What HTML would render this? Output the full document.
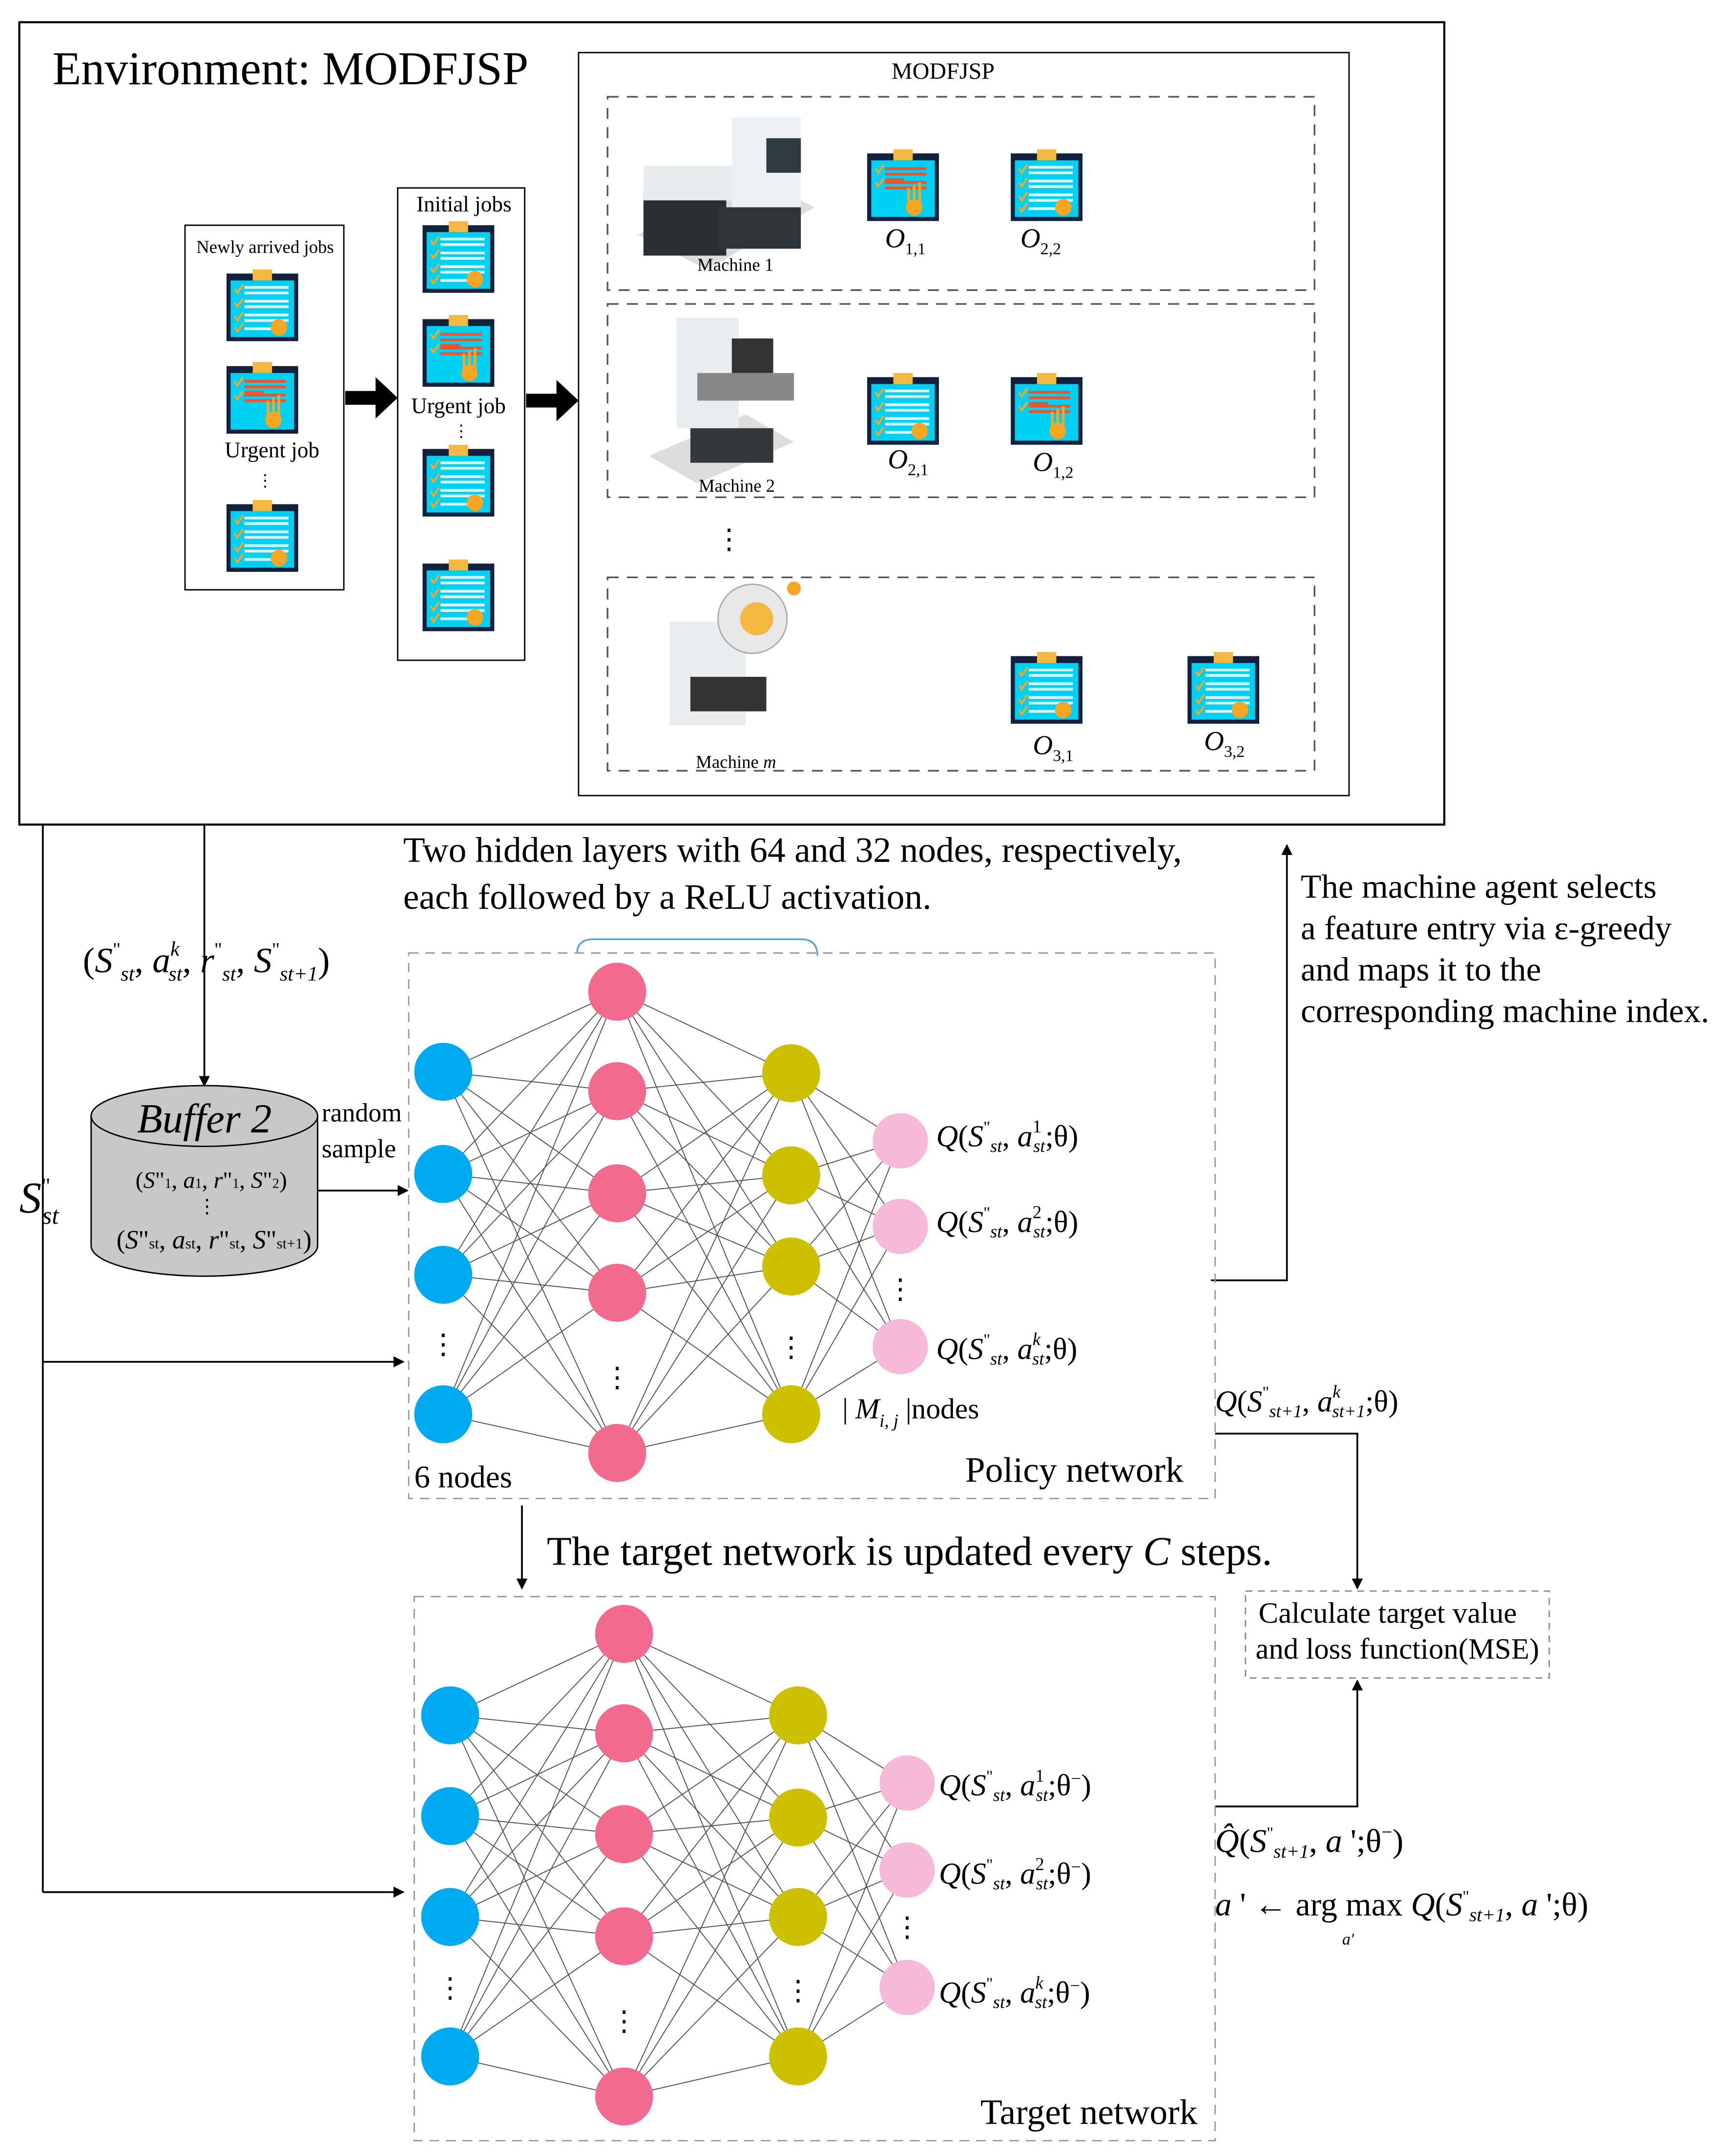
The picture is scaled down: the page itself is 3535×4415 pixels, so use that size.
<!DOCTYPE html>
<html><head><meta charset="utf-8"><style>
html,body{margin:0;padding:0;background:#fff}
svg{display:block}
text{font-family:"Liberation Serif",serif;fill:#000}
</style></head><body>
<svg id="s" width="3535" height="4415" viewBox="0 0 1250 1561" xmlns="http://www.w3.org/2000/svg">
<defs>
<marker id="ah" markerWidth="8" markerHeight="8" refX="7" refY="4" orient="auto" markerUnits="userSpaceOnUse"><path d="M0,0 L8,4 L0,8 z" fill="#000"/></marker>
<symbol id="cbU" viewBox="0 0 52 52"><rect x="0" y="3" width="52" height="49" fill="#14213d"/><rect x="3" y="8" width="46" height="41" fill="#00d1f2"/><rect x="19" y="0" width="14" height="8" fill="#f5b942"/>
<path d="M6,14 l2,3 l4,-6 M6,24 l2,3 l4,-6" stroke="#f5a623" stroke-width="1.5" fill="none"/>
<rect x="13" y="13" width="30" height="2" fill="#f0532a"/><rect x="13" y="17" width="30" height="2" fill="#f0532a"/><rect x="13" y="21" width="14" height="2" fill="#f0532a"/>
<rect x="13" y="23" width="30" height="2" fill="#f0532a"/><rect x="13" y="27" width="30" height="2" fill="#f0532a"/>
<path d="M30,38 v-10 M34,38 v-12 M38,38 v-14" stroke="#f5a623" stroke-width="2"/><circle cx="34" cy="42" r="6" fill="#f5a623"/></symbol>
<symbol id="cbN" viewBox="0 0 52 52"><rect x="0" y="3" width="52" height="49" fill="#14213d"/><rect x="3" y="8" width="46" height="41" fill="#00d1f2"/><rect x="19" y="0" width="14" height="8" fill="#f5b942"/>
<g stroke="#f5a623" stroke-width="1.5" fill="none"><path d="M6,14 l2,3 l4,-6"/><path d="M6,24 l2,3 l4,-6"/><path d="M6,34 l2,3 l4,-6"/><path d="M6,42 l2,3 l4,-6"/></g>
<g fill="#d8f6fc"><rect x="13" y="12" width="32" height="2"/><rect x="13" y="16" width="32" height="2"/><rect x="13" y="22" width="32" height="2"/><rect x="13" y="26" width="32" height="2"/><rect x="13" y="32" width="32" height="2"/><rect x="13" y="36" width="32" height="2"/><rect x="13" y="42" width="20" height="2"/></g>
<circle cx="38" cy="42" r="6" fill="#f5a623"/></symbol>
</defs>
<rect x="0" y="0" width="1250" height="1561" fill="#fff"/>
<rect x="14" y="16" width="1032" height="581" fill="none" stroke="#000" stroke-width="1.5"/>
<text x="38" y="61" font-size="34">Environment: MODFJSP</text>
<rect x="419" y="38" width="558" height="538" fill="none" stroke="#000" stroke-width="1"/>
<text x="683" y="57" font-size="17" text-anchor="middle">MODFJSP</text>
<g fill="none" stroke="#555" stroke-dasharray="8,6" stroke-width="1.2">
<rect x="440" y="70" width="512" height="140"/><rect x="440" y="220" width="512" height="140"/><rect x="440" y="418" width="512" height="140"/></g>
<text x="528" y="397" font-size="20" text-anchor="middle">⋮</text>
<g>
<path d="M462,170 L540,125 L590,150 L512,195 z" fill="#ddd"/>
<rect x="466" y="140" width="60" height="45" fill="#2b2f33"/><rect x="466" y="120" width="90" height="25" fill="#e8ecef"/>
<rect x="530" y="85" width="50" height="70" fill="#eef1f3"/><rect x="555" y="100" width="25" height="25" fill="#2f3b40"/>
<rect x="520" y="150" width="60" height="30" fill="#30353a"/>
<text x="505" y="196" font-size="13">Machine 1</text>
<path d="M470,330 L540,300 L575,320 L505,350 z" fill="#ddd"/>
<rect x="490" y="230" width="45" height="80" fill="#e9edf0"/><rect x="505" y="270" width="70" height="20" fill="#888"/>
<rect x="500" y="310" width="60" height="25" fill="#33383d"/><rect x="530" y="245" width="30" height="25" fill="#333"/>
<text x="506" y="356" font-size="13">Machine 2</text>
<rect x="485" y="450" width="55" height="75" fill="#e9edf0"/><circle cx="545" cy="448" r="25" fill="#e8e8e8" stroke="#aaa"/><circle cx="548" cy="448" r="12" fill="#f5b942"/>
<rect x="500" y="490" width="55" height="25" fill="#333"/><circle cx="575" cy="426" r="5" fill="#f5a623"/>
<text x="504" y="556" font-size="13">Machine <tspan font-style="italic">m</tspan></text>
</g>
<use href="#cbU" x="628" y="108" width="52" height="52"/><use href="#cbN" x="732" y="108" width="52" height="52"/>
<use href="#cbN" x="628" y="270" width="52" height="52"/><use href="#cbU" x="732" y="270" width="52" height="52"/>
<use href="#cbN" x="732" y="472" width="52" height="52"/><use href="#cbN" x="860" y="472" width="52" height="52"/>
<g font-size="20" font-style="italic">
<text x="641" y="179">O<tspan font-size="12" font-style="normal" dy="5">1,1</tspan></text>
<text x="739" y="179">O<tspan font-size="12" font-style="normal" dy="5">2,2</tspan></text>
<text x="643" y="339">O<tspan font-size="12" font-style="normal" dy="5">2,1</tspan></text>
<text x="748" y="341">O<tspan font-size="12" font-style="normal" dy="5">1,2</tspan></text>
<text x="748" y="546">O<tspan font-size="12" font-style="normal" dy="5">3,1</tspan></text>
<text x="872" y="543">O<tspan font-size="12" font-style="normal" dy="5">3,2</tspan></text>
</g>
<rect x="134" y="163" width="115" height="264" fill="none" stroke="#000"/>
<text x="192" y="183" font-size="13" text-anchor="middle">Newly arrived jobs</text>
<use href="#cbN" x="164" y="195" width="52" height="52"/><use href="#cbU" x="164" y="262" width="52" height="52"/>
<text x="197" y="331" font-size="16" text-anchor="middle">Urgent job</text>
<text x="192" y="352" font-size="12" text-anchor="middle">⋮</text>
<use href="#cbN" x="164" y="362" width="52" height="52"/>
<rect x="288" y="136" width="92" height="342" fill="none" stroke="#000"/>
<text x="336" y="153" font-size="16" text-anchor="middle">Initial jobs</text>
<use href="#cbN" x="306" y="160" width="52" height="52"/><use href="#cbU" x="306" y="228" width="52" height="52"/>
<text x="332" y="299" font-size="16" text-anchor="middle">Urgent job</text>
<text x="334" y="316" font-size="12" text-anchor="middle">⋮</text>
<use href="#cbN" x="306" y="322" width="52" height="52"/><use href="#cbN" x="306" y="405" width="52" height="52"/>
<path d="M250,283 h22 v-10 l16,15 l-16,15 v-10 h-22 z" fill="#000"/>
<path d="M381,285 h22 v-10 l16,15 l-16,15 v-10 h-22 z" fill="#000"/>
<text x="292" y="624" font-size="26">Two hidden layers with 64 and 32 nodes, respectively,</text>
<text x="292" y="658" font-size="26">each followed by a ReLU activation.</text>
<text x="942" y="650" font-size="24.5">The machine agent selects</text>
<text x="942" y="680" font-size="24.5">a feature entry via ε-greedy</text>
<text x="942" y="710" font-size="24.5">and maps it to the</text>
<text x="942" y="740" font-size="24.5">corresponding machine index.</text>
<path d="M418,690 Q418,680 430,680 L580,680 Q592,680 592,692" fill="none" stroke="#5aa0d8" stroke-width="1.2"/>
<text x="60" y="704" font-size="26">(<tspan font-style="italic">S</tspan><tspan font-size="14" dy="-12">"</tspan><tspan font-size="15" font-style="italic" dy="18">st</tspan><tspan dy="-6">, </tspan><tspan font-style="italic">a</tspan><tspan font-size="15" font-style="italic" dy="-12">k</tspan><tspan font-size="15" font-style="italic" dx="-8" dy="18">st</tspan><tspan dy="-6">, </tspan><tspan font-style="italic">r</tspan><tspan font-size="14" dy="-12">"</tspan><tspan font-size="15" font-style="italic" dy="18">st</tspan><tspan dy="-6">, </tspan><tspan font-style="italic">S</tspan><tspan font-size="14" dy="-12">"</tspan><tspan font-size="15" font-style="italic" dy="18">st+1</tspan><tspan dy="-6">)</tspan></text>
<text x="14" y="878" font-size="32" font-style="italic">S<tspan font-size="16" font-style="normal" dy="-14">"</tspan><tspan font-size="18" dx="-6" dy="22">st</tspan></text>
<path d="M66,808 v94 a82,22 0 0 0 164,0 v-94 z" fill="#c8c8c8" stroke="#000"/>
<ellipse cx="148" cy="808" rx="82" ry="22" fill="#c8c8c8" stroke="#000"/>
<text x="148" y="820" font-size="30" font-style="italic" text-anchor="middle">Buffer 2</text>
<text x="153" y="860" font-size="17" text-anchor="middle">(<tspan font-style="italic">S</tspan>"<tspan font-size="10">1</tspan>, <tspan font-style="italic">a</tspan><tspan font-size="10">1</tspan>, <tspan font-style="italic">r</tspan>"<tspan font-size="10">1</tspan>, <tspan font-style="italic">S</tspan>"<tspan font-size="10">2</tspan>)</text>
<text x="150" y="878" font-size="14" text-anchor="middle">⋮</text>
<text x="155" y="904" font-size="19" text-anchor="middle">(<tspan font-style="italic">S</tspan>"<tspan font-size="11">st</tspan>, <tspan font-style="italic">a</tspan><tspan font-size="11">st</tspan>, <tspan font-style="italic">r</tspan>"<tspan font-size="11">st</tspan>, <tspan font-style="italic">S</tspan>"<tspan font-size="11">st+1</tspan>)</text>
<text x="233" y="812" font-size="19">random</text>
<text x="233" y="838" font-size="19">sample</text>
<g stroke="#000" stroke-width="1.3" fill="none">
<path d="M31,597 V1370"/>
<path d="M31,986 H292" marker-end="url(#ah)"/>
<path d="M31,1370 H292" marker-end="url(#ah)"/>
<path d="M148,597 V786" marker-end="url(#ah)"/>
<path d="M230,862 H295" marker-end="url(#ah)"/>
<path d="M877,927 H932 V612" marker-end="url(#ah)"/>
<path d="M880,1038 H983 V1150" marker-end="url(#ah)"/>
<path d="M880,1308 H983 V1217" marker-end="url(#ah)"/>
<path d="M378,1090 V1150" marker-end="url(#ah)"/>
</g>
<rect x="902" y="1152" width="220" height="63" fill="none" stroke="#888" stroke-dasharray="5,4"/>
<text x="1005" y="1175" font-size="21.5" text-anchor="middle">Calculate target value</text>
<text x="1012" y="1201" font-size="21.5" text-anchor="middle">and loss function(MSE)</text>
<text x="396" y="1133" font-size="29.5">The target network is updated every <tspan font-style="italic">C</tspan> steps.</text>
<rect x="296" y="690" width="584" height="395" fill="none" stroke="#999" stroke-dasharray="7,5"/>
<rect x="300" y="1156" width="580" height="394" fill="none" stroke="#999" stroke-dasharray="7,5"/>
<g id="edges" stroke="#555" stroke-width="0.7"></g>
<g id="nodes"></g>
<text x="300" y="1077" font-size="23">6 nodes</text>
<text x="699" y="1073" font-size="26">Policy network</text>
<text x="710" y="1538" font-size="26">Target network</text>
<text x="610" y="1027" font-size="21">| <tspan font-style="italic">M</tspan><tspan font-size="13" font-style="italic" dy="6">i, j</tspan><tspan dy="-6"> |nodes</tspan></text>
<g font-size="22">
<text x="678" y="830"><tspan font-style="italic">Q</tspan>(<tspan font-style="italic">S</tspan><tspan font-size="12" dy="-10">"</tspan><tspan font-size="13" font-style="italic" dy="14">st</tspan><tspan dy="-4">, </tspan><tspan font-style="italic">a</tspan><tspan font-size="13" dy="-10">1</tspan><tspan font-size="13" font-style="italic" dx="-6" dy="14">st</tspan><tspan dy="-4">;θ)</tspan></text>
<text x="678" y="892"><tspan font-style="italic">Q</tspan>(<tspan font-style="italic">S</tspan><tspan font-size="12" dy="-10">"</tspan><tspan font-size="13" font-style="italic" dy="14">st</tspan><tspan dy="-4">, </tspan><tspan font-style="italic">a</tspan><tspan font-size="13" dy="-10">2</tspan><tspan font-size="13" font-style="italic" dx="-6" dy="14">st</tspan><tspan dy="-4">;θ)</tspan></text>
<text x="678" y="984"><tspan font-style="italic">Q</tspan>(<tspan font-style="italic">S</tspan><tspan font-size="12" dy="-10">"</tspan><tspan font-size="13" font-style="italic" dy="14">st</tspan><tspan dy="-4">, </tspan><tspan font-style="italic">a</tspan><tspan font-size="13" font-style="italic" dy="-10">k</tspan><tspan font-size="13" font-style="italic" dx="-6" dy="14">st</tspan><tspan dy="-4">;θ)</tspan></text>
<text x="680" y="1300"><tspan font-style="italic">Q</tspan>(<tspan font-style="italic">S</tspan><tspan font-size="12" dy="-10">"</tspan><tspan font-size="13" font-style="italic" dy="14">st</tspan><tspan dy="-4">, </tspan><tspan font-style="italic">a</tspan><tspan font-size="13" dy="-10">1</tspan><tspan font-size="13" font-style="italic" dx="-6" dy="14">st</tspan><tspan dy="-4">;θ</tspan><tspan font-size="13" dy="-8">−</tspan><tspan dy="8">)</tspan></text>
<text x="680" y="1364"><tspan font-style="italic">Q</tspan>(<tspan font-style="italic">S</tspan><tspan font-size="12" dy="-10">"</tspan><tspan font-size="13" font-style="italic" dy="14">st</tspan><tspan dy="-4">, </tspan><tspan font-style="italic">a</tspan><tspan font-size="13" dy="-10">2</tspan><tspan font-size="13" font-style="italic" dx="-6" dy="14">st</tspan><tspan dy="-4">;θ</tspan><tspan font-size="13" dy="-8">−</tspan><tspan dy="8">)</tspan></text>
<text x="680" y="1450"><tspan font-style="italic">Q</tspan>(<tspan font-style="italic">S</tspan><tspan font-size="12" dy="-10">"</tspan><tspan font-size="13" font-style="italic" dy="14">st</tspan><tspan dy="-4">, </tspan><tspan font-style="italic">a</tspan><tspan font-size="13" font-style="italic" dy="-10">k</tspan><tspan font-size="13" font-style="italic" dx="-6" dy="14">st</tspan><tspan dy="-4">;θ</tspan><tspan font-size="13" dy="-8">−</tspan><tspan dy="8">)</tspan></text>
<text x="880" y="1022"><tspan font-style="italic">Q</tspan>(<tspan font-style="italic">S</tspan><tspan font-size="12" dy="-10">"</tspan><tspan font-size="13" font-style="italic" dy="14">st+1</tspan><tspan dy="-4">, </tspan><tspan font-style="italic">a</tspan><tspan font-size="13" font-style="italic" dy="-10">k</tspan><tspan font-size="13" font-style="italic" dx="-6" dy="14">st+1</tspan><tspan dy="-4">;θ)</tspan></text>
<text x="880" y="1341" font-size="24"><tspan font-style="italic">Q̂</tspan>(<tspan font-style="italic">S</tspan><tspan font-size="12" dy="-10">"</tspan><tspan font-size="14" font-style="italic" dy="14">st+1</tspan><tspan dy="-4">, </tspan><tspan font-style="italic">a</tspan> ';θ<tspan font-size="14" dy="-10">−</tspan><tspan dy="10">)</tspan></text>
<text x="880" y="1387" font-size="24"><tspan font-style="italic">a</tspan> ' ← arg max <tspan font-style="italic">Q</tspan>(<tspan font-style="italic">S</tspan><tspan font-size="12" dy="-10">"</tspan><tspan font-size="14" font-style="italic" dy="14">st+1</tspan><tspan dy="-4">, </tspan><tspan font-style="italic">a</tspan> ';θ)</text>
<text x="972" y="1408" font-size="12" font-style="italic">a'</text>
</g>
</svg>
<script>
var NS="http://www.w3.org/2000/svg";
var E=document.getElementById("edges"),N=document.getElementById("nodes");
function net(layers){
 for(var l=0;l<layers.length-1;l++){var a=layers[l],b=layers[l+1];
  a.ys.forEach(function(y1){b.ys.forEach(function(y2){var p=document.createElementNS(NS,"line");
   p.setAttribute("x1",a.x);p.setAttribute("y1",y1);p.setAttribute("x2",b.x);p.setAttribute("y2",y2);E.appendChild(p);});});}
 layers.forEach(function(L){L.ys.forEach(function(y){var c=document.createElementNS(NS,"circle");
  c.setAttribute("cx",L.x);c.setAttribute("cy",y);c.setAttribute("r",L.r);c.setAttribute("fill",L.c);N.appendChild(c);});
  var t=document.createElementNS(NS,"text");t.setAttribute("x",L.x);t.setAttribute("y",L.d);t.setAttribute("text-anchor","middle");t.setAttribute("font-size","20");t.textContent="⋮";N.appendChild(t);});
}
net([{x:321,ys:[776,850,923,1024],r:21,c:"#00aaf0",d:980},
 {x:447,ys:[718,790,864,936,1052],r:21,c:"#f26b8f",d:1004},
 {x:573,ys:[777,851,917,1024],r:21,c:"#ccc000",d:982},
 {x:652,ys:[826,888,975],r:20,c:"#f7b9d8",d:940}]);
net([{x:326,ys:[1242,1315,1388,1489],r:21,c:"#00aaf0",d:1446},
 {x:452,ys:[1183,1255,1328,1402,1518],r:21,c:"#f26b8f",d:1470},
 {x:578,ys:[1242,1316,1388,1489],r:21,c:"#ccc000",d:1448},
 {x:657,ys:[1291,1354,1439],r:20,c:"#f7b9d8",d:1402}]);
</script>
</body></html>
